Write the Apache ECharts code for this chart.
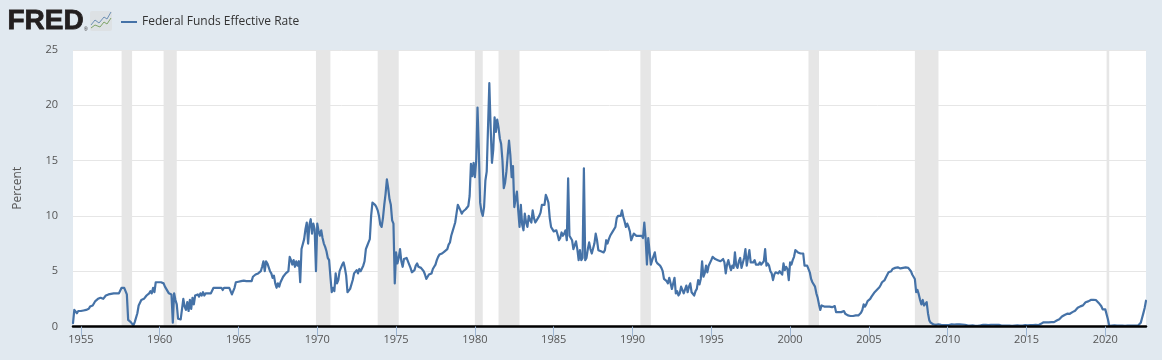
<!DOCTYPE html>
<html>
<head>
<meta charset="utf-8">
<title>Federal Funds Effective Rate</title>
<script src="https://cdn.jsdelivr.net/npm/echarts@6/dist/echarts.min.js"></script>
<style>
  html, body { margin: 0; padding: 0; background: #e1e9f0; }
  #chart { width: 1162px; height: 360px; }
</style>
</head>
<body>
<div id="chart"></div>
<script>
const seriesName = 'Federal Funds Effective Rate';
const firstYear = 1954;
const firstMonth = 7;
const yearTicks = [1955, 1960, 1965, 1970, 1975, 1980, 1985, 1990, 1995, 2000, 2005, 2010, 2015, 2020];

// monthly values, one line per year, starting July 1954
const rateValues = [
  0.3, 1.5, 1.4, 1.2, 1.4, 1.4,
  1.4, 1.4, 1.45, 1.45, 1.5, 1.5, 1.6, 1.8, 1.8, 1.9, 2.1, 2.3,
  2.4, 2.5, 2.5, 2.6, 2.6, 2.5, 2.65, 2.8, 2.75, 2.9, 2.75, 2.95,
  3, 3, 3, 3, 3, 3, 3, 3.5, 3.55, 3.5, 3.2, 2.9,
  0.6, 0.5, 0.4, 0.25, 0.1, 0.4, 0.5, 1.2, 1.9, 1.9, 2.4, 2.4,
  2.5, 2.6, 2.8, 2.9, 3.0, 3.2, 3.0, 3.5, 3.1, 4.0, 4.0, 4.0,
  4, 4, 4, 3.9, 3.6, 3.4, 3.2, 3.0, 2.9, 2.9, 0.35, 3.0,
  2.4, 2.0, 0.7, 0.6, 0.65, 0.6, 2.5, 1.8, 1.5, 2.2, 1.4, 2.4,
  1.6, 2.6, 2.0, 2.8, 2.7, 2.9, 2.7, 3.0, 2.8, 3.1, 2.8, 3.0,
  3, 3, 3, 3, 3, 3.5, 3.5, 3.5, 3.55, 3.5, 3.55, 3.5,
  3.3, 3.5, 3.55, 3.5, 3.5, 3.5, 3.5, 2.9, 3.0, 3.5, 4.0, 4.0,
  4.05, 4.05, 4.1, 4.15, 4.15, 4.1, 4.1, 4.1, 4.1, 4.0, 4.1, 4.5,
  4.5, 4.7, 4.6, 4.8, 4.7, 5.0, 5.4, 5.9, 5.0, 5.9, 5.7, 5.6,
  5.0, 4.8, 4.4, 4.6, 3.9, 3.5, 3.9, 3.6, 4.0, 4.0, 4.5, 4.6,
  4.8, 4.9, 5.0, 6.3, 6.0, 5.6, 6.0, 5.4, 5.9, 5.5, 5.9, 4.0,
  7.0, 6.9, 7.9, 8.8, 9.4, 7.5, 9.2, 9.7, 8.4, 9.3, 8.8, 5.0,
  9.3, 8.6, 8.2, 8.7, 8.0, 7.5, 7.2, 6.8, 6.2, 6.0, 4.5, 3.1,
  3.5, 3.2, 4.8, 3.9, 4.2, 5.0, 5.0, 5.6, 5.8, 5.3, 4.6, 3.1,
  3.1, 3.4, 3.4, 4.2, 4.8, 4.7, 5.1, 4.8, 5.2, 5.0, 5.0, 5.5,
  5.9, 7.0, 7.3, 7.6, 7.9, 10.0, 11.2, 11.2, 11.0, 10.8, 10.5, 10.0,
  9.2, 9.0, 9.8, 11.0, 12.0, 13.3, 12.5, 11.5, 11.0, 9.6, 9.3, 3.9,
  6.7, 5.7, 6.2, 7.0, 5.9, 5.4, 6.1, 6.1, 6.2, 6.1, 5.6, 5.3,
  4.9, 5.0, 5.1, 5.5, 5.7, 5.4, 5.4, 5.3, 5.3, 5.0, 4.7, 4.3,
  4.5, 4.7, 4.7, 4.8, 5.2, 5.4, 5.6, 6.0, 6.3, 6.5, 6.6, 6.6,
  6.7, 6.8, 6.8, 7.0, 7.4, 7.6, 8.2, 8.6, 9.0, 9.4, 10.2, 11.0,
  10.9, 10.5, 10.2, 10.4, 10.5, 10.6, 10.6, 10.9, 11.8, 14.7, 13.6, 14.8,
  13.5, 15.0, 19.8, 16.0, 11.2, 10.4, 10.0, 10.8, 13.2, 14.0, 18.0, 22.0,
  18.0, 14.8, 16.0, 18.9, 17.6, 18.7, 18.0, 17.0, 16.5, 15.0, 12.5, 13.0,
  14.0, 15.5, 16.8, 15.5, 13.5, 14.5, 10.8, 11.5, 12.2, 10.5, 9.0, 11.0,
  9.2, 8.7, 10.2, 9.4, 9.0, 10.0, 9.6, 9.4, 10.5, 9.8, 9.4, 9.6,
  9.7, 10.0, 10.3, 11.0, 11.0, 11.0, 11.9, 11.6, 11.2, 9.8, 9.0, 8.8,
  8.6, 8.7, 8.7, 8.3, 7.8, 8.0, 8.5, 8.2, 8.4, 8.7, 7.8, 13.4,
  8.2, 8.0, 7.8, 7.0, 7.1, 7.7, 7.0, 6.0, 6.9, 6.0, 6.2, 14.3,
  6.0, 6.2, 7.0, 7.6, 7.0, 6.6, 6.6, 7.5, 8.4, 7.8, 6.9, 7.0,
  6.8, 6.7, 6.7, 6.9, 7.8, 7.5, 7.9, 8.2, 8.1, 8.6, 8.5, 9.0,
  9.8, 10.0, 10.1, 10.0, 10.5, 9.9, 9.5, 9.0, 9.3, 9.0, 8.6, 7.8,
  8.1, 8.4, 8.3, 8.2, 8.2, 8.2, 8.2, 8.2, 8.0, 9.4, 8.0, 5.6,
  8.0, 6.8, 5.6, 6.0, 6.0, 6.7, 5.9, 5.7, 5.8, 5.5, 5.3, 5.0,
  4.3, 4.2, 4.1, 3.9, 4.4, 3.9, 3.4, 3.4, 4.4, 3.0, 3.2, 2.8,
  3.0, 3.6, 3.7, 3.0, 3.0, 3.7, 3.1, 3.6, 3.9, 3.1, 3.0, 2.8,
  3.2, 3.4, 4.2, 3.8, 4.3, 5.9, 4.5, 4.8, 5.5, 4.9, 5.5, 5.5,
  6.0, 6.3, 6.2, 6.1, 6.1, 6.0, 6.0, 5.9, 6.0, 6.1, 5.8, 4.8,
  5.6, 6.0, 5.5, 5.1, 5.5, 5.3, 6.7, 5.5, 5.3, 5.9, 6.2, 5.3,
  5.4, 6.2, 7.0, 5.5, 6.2, 6.9, 5.8, 5.7, 5.8, 6.0, 5.6, 5.7,
  5.6, 5.8, 5.6, 5.7, 5.9, 7.0, 5.5, 5.7, 5.5, 5.0, 4.8, 4.2,
  4.7, 4.9, 4.9, 4.8, 5.0, 5.0, 4.7, 5.7, 5.1, 5.4, 5.2, 4.2,
  5.8, 5.6, 6.0, 6.3, 6.9, 6.8, 6.7, 6.6, 6.6, 6.6, 6.6, 5.5,
  5.5, 5.5, 5.4, 4.9, 4.3, 4.0, 3.9, 3.6, 3.0, 2.6, 2.0, 1.5,
  1.9, 1.8, 1.8, 1.8, 1.8, 1.8, 1.8, 1.8, 1.75, 1.8, 1.85, 1.3,
  1.3, 1.3, 1.3, 1.3, 1.25, 1.4, 1.15, 1.05, 1.0, 1.0, 0.95, 0.9,
  0.95, 1.0, 1.0, 1.0, 1.0, 1.05, 1.25, 1.5, 2.0, 1.8, 2.0, 2.3,
  2.3, 2.5, 2.7, 2.8, 3.05, 3.0, 3.3, 3.45, 3.55, 3.75, 4.0, 4.0,
  4.2, 4.45, 4.6, 4.9, 4.8, 5.0, 5.2, 5.25, 5.3, 5.3, 5.35, 5.25,
  5.25, 5.35, 5.3, 5.4, 5.35, 5.3, 5.3, 5.3, 5.0, 4.7, 4.7, 4.3,
  3.1, 3.3, 2.9, 2.4, 2.0, 2.4, 1.9, 2.0, 2.2, 1.2, 0.55, 0.35,
  0.2, 0.2, 0.2, 0.15, 0.2, 0.2, 0.15, 0.15, 0.15, 0.12, 0.12, 0.12,
  0.11, 0.13, 0.16, 0.2, 0.2, 0.18, 0.18, 0.2, 0.2, 0.19, 0.19, 0.18,
  0.17, 0.16, 0.14, 0.1, 0.09, 0.09, 0.07, 0.1, 0.08, 0.07, 0.08, 0.07,
  0.08, 0.1, 0.13, 0.14, 0.16, 0.16, 0.16, 0.13, 0.14, 0.16, 0.16, 0.16,
  0.14, 0.15, 0.14, 0.15, 0.11, 0.09, 0.09, 0.08, 0.08, 0.09, 0.08, 0.09,
  0.07, 0.07, 0.08, 0.09, 0.09, 0.1, 0.09, 0.09, 0.09, 0.09, 0.09, 0.12,
  0.11, 0.11, 0.11, 0.12, 0.12, 0.13, 0.13, 0.14, 0.14, 0.12, 0.12, 0.24,
  0.34, 0.38, 0.36, 0.37, 0.37, 0.38, 0.39, 0.4, 0.4, 0.4, 0.41, 0.54,
  0.65, 0.66, 0.79, 0.9, 0.91, 1.04, 1.15, 1.16, 1.15, 1.15, 1.16, 1.3,
  1.41, 1.42, 1.51, 1.69, 1.7, 1.82, 1.91, 1.91, 1.95, 2.19, 2.2, 2.27,
  2.4, 2.4, 2.41, 2.42, 2.39, 2.38, 2.4, 2.13, 2.04, 1.83, 1.55, 1.55,
  1.55, 1.58, 0.65, 0.05, 0.05, 0.08, 0.09, 0.1, 0.09, 0.09, 0.09, 0.09,
  0.09, 0.08, 0.07, 0.07, 0.06, 0.08, 0.1, 0.09, 0.08, 0.08, 0.08, 0.08,
  0.08, 0.08, 0.2, 0.33, 0.77, 1.21, 1.68, 2.33
];

const recessionStart = ['1957-08', '1960-04', '1969-12', '1973-11', '1980-01', '1981-07', '1990-07', '2001-03', '2007-12', '2020-02'];
const recessionEnd = ['1958-04', '1961-02', '1970-11', '1975-03', '1980-07', '1982-11', '1991-03', '2001-11', '2009-06', '2020-04'];

// the x axis runs in decimal years
function monthToYear(str) {
  const parts = str.split('-');
  return +parts[0] + (+parts[1] - 1) / 12;
}

const startYear = firstYear + (firstMonth - 1) / 12;
const rateData = rateValues.map((v, i) => [startYear + i / 12, v]);

const chart = echarts.init(document.getElementById('chart'));
const fontName = '"Open Sans", sans-serif';

chart.setOption({
  animation: false,
  backgroundColor: '#e1e9f0',
  textStyle: { fontFamily: fontName },
  grid: {
    show: true,
    left: 73,
    right: 16,
    top: 50,
    bottom: 33.5,
    backgroundColor: '#ffffff',
    borderWidth: 0,
  },
  legend: {
    data: [seriesName],
    left: 116,
    top: 11,
    icon: 'rect',
    itemWidth: 16,
    itemHeight: 2,
    itemGap: 5,
    textStyle: { fontSize: 12, color: '#333333', fontWeight: 'normal', fontFamily: fontName },
  },
  xAxis: {
    type: 'value',
    z: 10,
    min: rateData[0][0],
    max: rateData[rateData.length - 1][0],
    axisLine: { lineStyle: { color: '#000000', width: 2.5 } },
    axisTick: {
      show: true,
      length: 10,
      customValues: yearTicks,
      lineStyle: { color: '#9db6d4', width: 1 },
    },
    axisLabel: {
      show: true,
      color: '#555555',
      fontSize: 11,
      margin: 8,
      customValues: yearTicks,
      formatter: (val) => String(val),
    },
    splitLine: { show: false },
  },
  yAxis: {
    type: 'value',
    min: 0,
    max: 25,
    interval: 5,
    name: 'Percent',
    nameLocation: 'middle',
    nameGap: 49,
    nameTextStyle: { color: '#555555', fontSize: 12 },
    axisLine: { show: false },
    axisTick: { show: false },
    axisLabel: { color: '#555555', fontSize: 11, margin: 15 },
    splitLine: { lineStyle: { color: '#e6e6e6', width: 1 } },
  },
  series: [
    {
      name: seriesName,
      type: 'line',
      data: rateData,
      showSymbol: false,
      symbol: 'none',
      sampling: false,
      itemStyle: { color: '#4572a7' },
      lineStyle: { color: '#4572a7', width: 2.2, join: 'round', cap: 'round' },
      markArea: {
        silent: true,
        itemStyle: { color: '#e6e6e6' },
        data: recessionStart.map((s, i) => [{ xAxis: monthToYear(s) }, { xAxis: monthToYear(recessionEnd[i]) }]),
      },
    },
  ],
  graphic: [
    {
      type: 'text',
      left: 7,
      top: 7,
      style: {
        text: 'FRED',
        font: 'bold 28px "Liberation Sans", sans-serif',
        fill: '#231f20',
        stroke: '#231f20',
        lineWidth: 0.8,
      },
    },
    {
      type: 'text',
      left: 84,
      top: 27,
      style: { text: '®', font: '5px "Liberation Sans", sans-serif', fill: '#231f20' },
    },
    {
      type: 'rect',
      shape: { x: 90, y: 11, width: 22, height: 20, r: 2 },
      style: { fill: '#dde1e4' },
    },
    {
      type: 'polyline',
      shape: { points: [[91, 25], [95, 20], [99, 23], [104, 17], [107, 19], [111, 12]] },
      style: { stroke: '#6d90b5', fill: null, lineWidth: 1 },
    },
    {
      type: 'polyline',
      shape: { points: [[91, 28], [95, 25], [100, 27], [104, 22], [107, 24], [111, 18]] },
      style: { stroke: '#7fa468', fill: null, lineWidth: 1 },
    },
  ],
});
</script>
</body>
</html>
